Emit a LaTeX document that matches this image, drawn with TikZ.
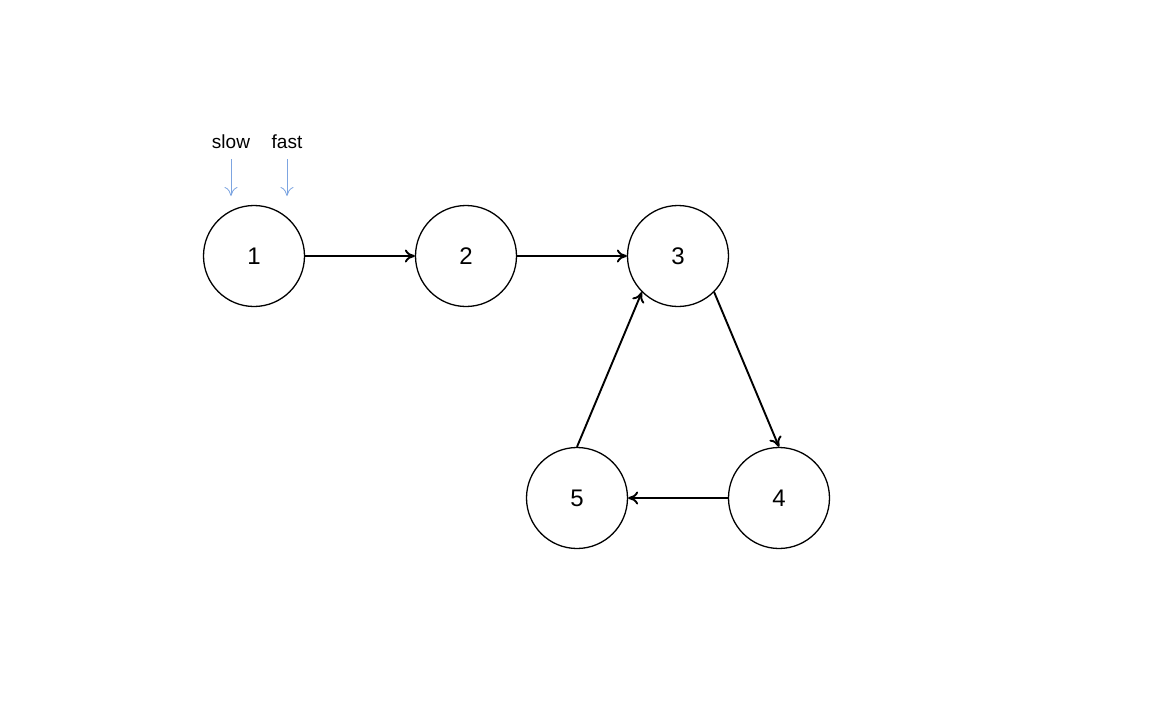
\documentclass[tikz,border=0pt]{standalone}
\usepackage{fontspec}
\setmainfont{Liberation Sans}
\usetikzlibrary{arrows.meta}
\definecolor{ptrblue}{RGB}{125,165,225}
\begin{document}
\begin{tikzpicture}[x=1pt,y=-1pt,
  nd/.style={circle,draw=black,line width=1.3pt,minimum size=101pt,inner sep=0pt,font=\fontsize{24}{28}\selectfont},
  edge/.style={draw=black,line width=1.9pt,-{To[length=10pt,width=13pt,line width=1.9pt]}},
  lbl/.style={font=\fontsize{19}{22}\selectfont,inner sep=0pt},
  ptr/.style={draw=ptrblue,line width=0.8pt,-{To[length=9pt,width=13pt,line width=0.8pt]}}]
\fill[white] (0,0) rectangle (1160,726);
\useasboundingbox (0,0) rectangle (1160,726);
\node[nd] (n1) at (254,256) {1};
\node[nd] (n2) at (466,256) {2};
\node[nd] (n3) at (678,256) {3};
\node[nd] (n4) at (779,498) {4};
\node[nd] (n5) at (577,498) {5};
\draw[edge] (n1) -- (n2);
\draw[edge] (n2) -- (n3);
\draw[edge] (n3.-45) -- (n4.north);
\draw[edge] (n4) -- (n5);
\draw[edge] (n5.north) -- (n3.-135);
\node[lbl] (slow) at (231,142) {slow};
\node[lbl] (fast) at (287,142) {fast};
\coordinate (s1) at (231,159);
\coordinate (s2) at (231,196);
\coordinate (f1) at (287,159);
\coordinate (f2) at (287,196);
\draw[ptr] (s1) -- (s2);
\draw[ptr] (f1) -- (f2);
\end{tikzpicture}
\end{document}
